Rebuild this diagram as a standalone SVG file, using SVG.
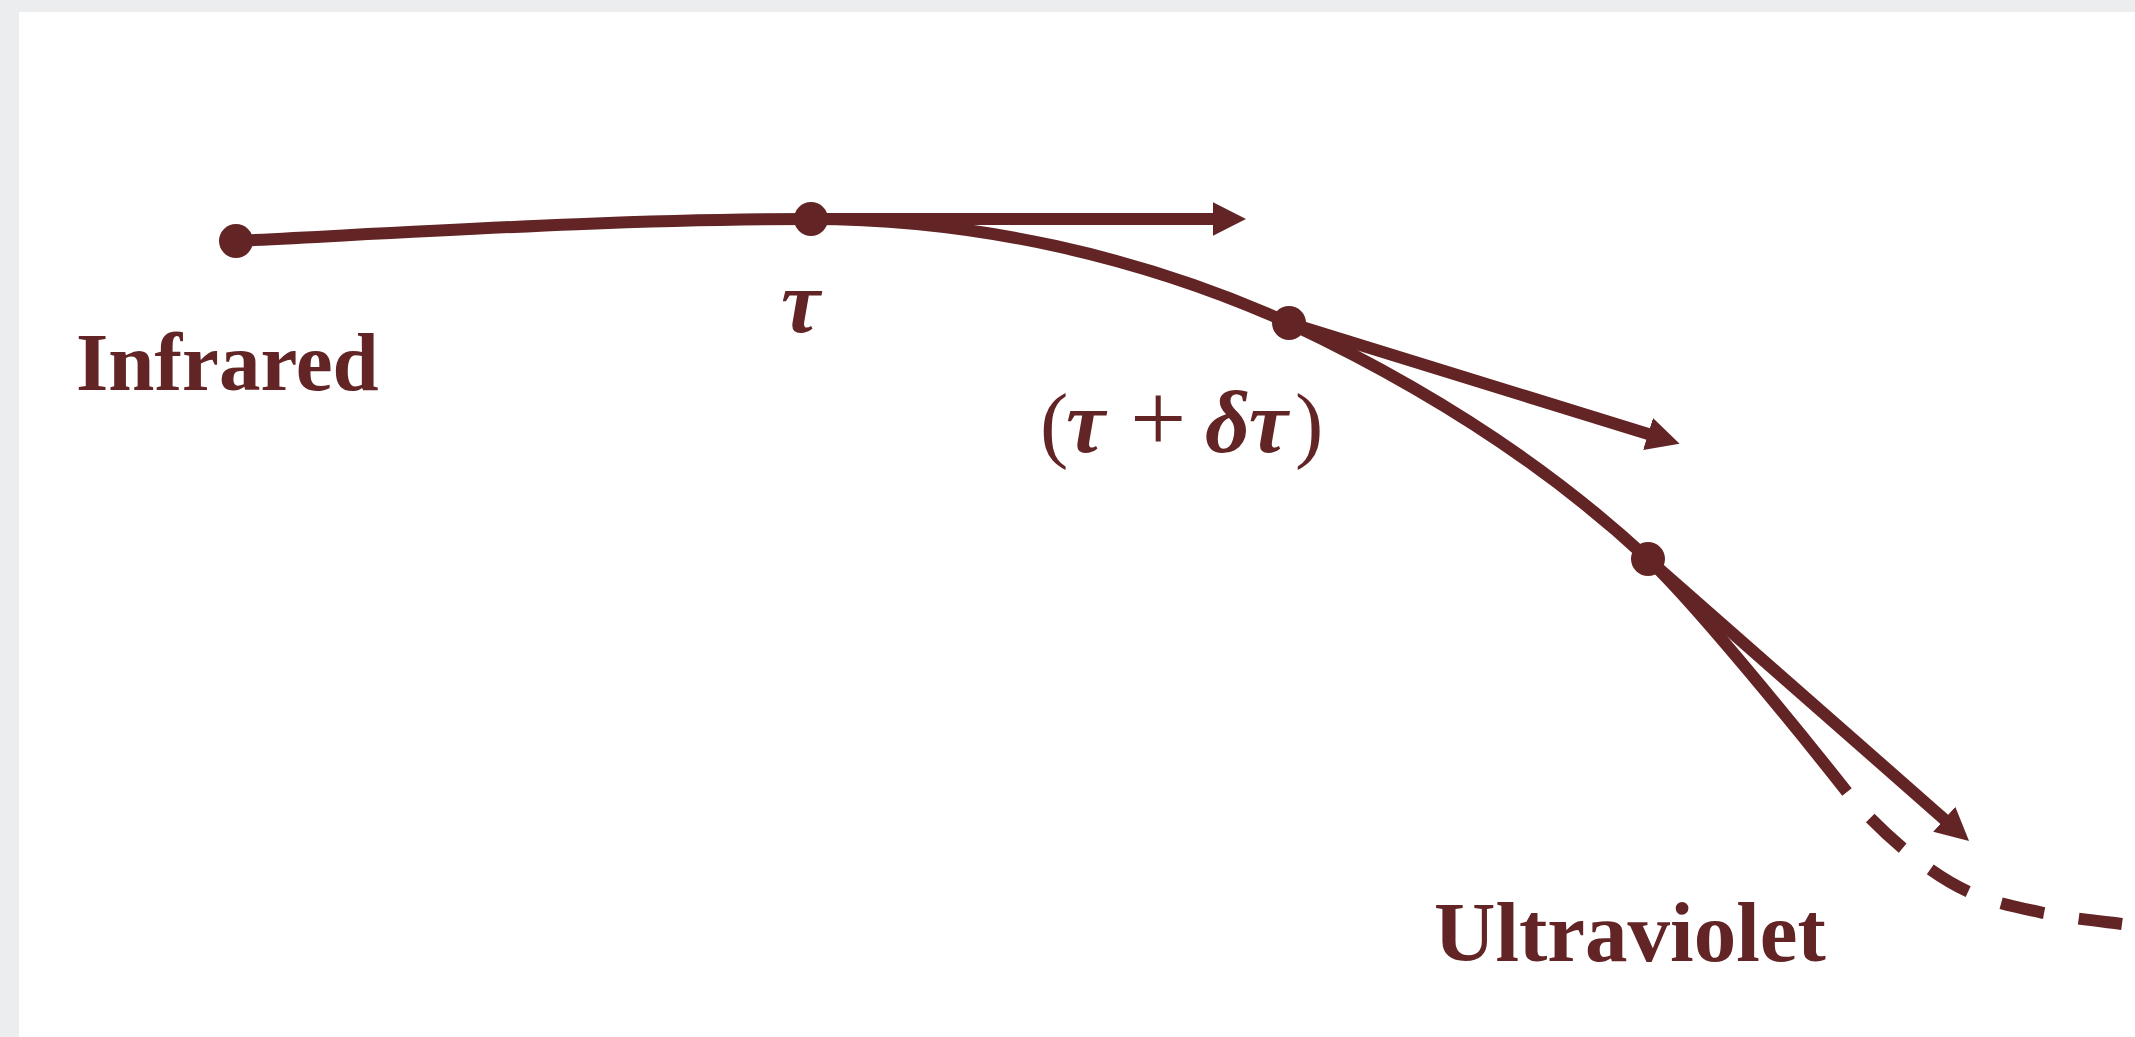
<svg xmlns="http://www.w3.org/2000/svg" width="2135" height="1037" viewBox="0 0 2135 1037">
  <style>
    .curve { fill: none; stroke: #632425; stroke-width: 12; stroke-linecap: butt; stroke-linejoin: round; }
    .dashed { stroke-dasharray: 44 35; stroke-dashoffset: 44; }
    .tan { fill: none; stroke: #632425; stroke-width: 12; stroke-linecap: butt; marker-end: url(#ah); }
    .dot { fill: #632425; }
    .lbl { font-family: "Liberation Serif", "DejaVu Serif", serif; font-weight: bold; fill: #632425; }
    .gk { font-style: italic; font-weight: bold; }
    .rg { font-style: normal; font-weight: normal; }
  </style>
  <defs>
    <marker id="ah" markerUnits="userSpaceOnUse" markerWidth="34" markerHeight="36" viewBox="0 0 34 36" refX="1" refY="18" orient="auto">
      <path d="M0,1.3 L33,18 L0,34.7 Z" fill="#632425"/>
    </marker>
  </defs>
  <rect x="0" y="0" width="2135" height="1037" fill="#ebedef"/>
  <rect x="19" y="12" width="2116" height="1025" fill="#ffffff"/>

  <g id="connectors">
    <path class="curve" d="M236,241 C428,231.4 619,219 811,219 C974,219 1140.3,256.2 1289,323 C1418.4,383.8 1543.3,461.6 1648,559 C1696,604 1806,740 1847,792"/>
    <path class="curve dashed" d="M1847,792 C1862,811 1884.7,833.3 1905,850 C1925.3,866.7 1945.8,881.5 1969,892 C1992.2,902.5 2018.5,907.7 2044,913 C2069.5,918.3 2109,922.2 2122,924"/>
    <line class="tan" x1="811" y1="219" x2="1214" y2="219"/>
    <line class="tan" x1="1289" y1="323" x2="1649" y2="434.3"/>
    <line class="tan" x1="1648" y1="559" x2="1945" y2="819.9"/>
  </g>

  <g id="node-infrared">
    <circle class="dot" cx="236" cy="241" r="17"/>
    <text class="lbl" x="76" y="390" font-size="83">Infrared</text>
  </g>
  <g id="node-tau">
    <circle class="dot" cx="811" cy="219" r="17"/>
    <text class="lbl gk" x="781" y="332" font-size="88">τ</text>
  </g>
  <g id="node-tau-dtau">
    <circle class="dot" cx="1289" cy="323" r="17"/>
    <text class="lbl" y="452" font-size="85"><tspan class="rg" x="1040">(</tspan><tspan class="gk" x="1066" font-size="88">τ</tspan><tspan class="rg" x="1130" font-size="100">+</tspan><tspan class="gk" x="1205" font-size="88">δτ</tspan><tspan class="rg" x="1295">)</tspan></text>
  </g>
  <g id="node-uv">
    <circle class="dot" cx="1648" cy="559" r="17"/>
    <text class="lbl" x="1434" y="961" font-size="85">Ultraviolet</text>
  </g>
</svg>
